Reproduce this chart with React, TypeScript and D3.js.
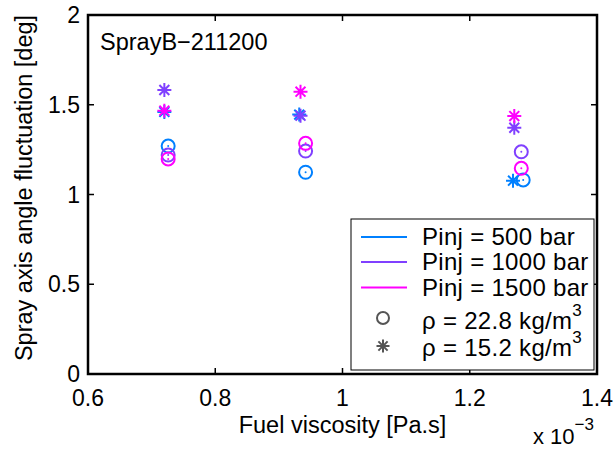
import React from "react";
import * as d3 from "d3";

const seriesLabels = ["Pinj = 500 bar", "Pinj = 1000 bar", "Pinj = 1500 bar"];
const seriesColors = ["#0080ff", "#8040ff", "#ff00ff"];
// rho = 22.8 kg/m3 (circles)
const circleX = [
  [0.726, 0.942, 1.284],
  [0.726, 0.942, 1.281],
  [0.726, 0.942, 1.281],
];
const circleY = [
  [1.27, 1.124, 1.081],
  [1.22, 1.242, 1.238],
  [1.198, 1.285, 1.146],
];
// rho = 15.2 kg/m3 (stars)
const starX = [
  [0.72, 0.932, 1.268],
  [0.72, 0.934, 1.27],
  [0.72, 0.934, 1.27],
];
const starY = [
  [1.46, 1.445, 1.077],
  [1.582, 1.439, 1.372],
  [1.467, 1.573, 1.437],
];
const xTicks = [0.6, 0.8, 1, 1.2, 1.4];
const yTicks = [0, 0.5, 1, 1.5, 2];

const W = 614;
const H = 449;
const L = 88, R = 597, T = 15, B = 374;
const FONT = "'Liberation Sans', Arial, Helvetica, sans-serif";

function starPath(cx: number, cy: number, r: number) {
  const d = r * Math.SQRT1_2;
  return `M${cx - r},${cy}L${cx + r},${cy}M${cx},${cy - r}L${cx},${cy + r}` +
    `M${cx - d},${cy - d}L${cx + d},${cy + d}M${cx - d},${cy + d}L${cx + d},${cy - d}`;
}

export default function App() {
  const x = d3.scaleLinear().domain([0.6, 1.4]).range([L, R]);
  const y = d3.scaleLinear().domain([0, 2]).range([B, T]);
  const tickLen = 6;
  const fmt = (v: number) => String(v);

  const legX = 351, legY = 219, legW = 243, legH = 151;
  const rowY = [237, 262, 287.5, 320, 347];

  return (
    <svg width={W} height={H} style={{ position: "absolute", left: 0, top: 0, background: "#fff" }}
      fontFamily={FONT}>
      <rect x={0} y={0} width={W} height={H} fill="#fff" />
      {/* ticks */}
      {xTicks.map((t, i) => (
        <g key={"xt" + i}>
          <line x1={x(t)} x2={x(t)} y1={B} y2={B - tickLen} stroke="#000" strokeWidth={1.5} />
          <line x1={x(t)} x2={x(t)} y1={T} y2={T + tickLen} stroke="#000" strokeWidth={1.5} />
          <text x={x(t)} y={406} fontSize={23} textAnchor="middle" fill="#000">{fmt(t)}</text>
        </g>
      ))}
      {yTicks.map((t, i) => (
        <g key={"yt" + i}>
          <line x1={L} x2={L + tickLen} y1={y(t)} y2={y(t)} stroke="#000" strokeWidth={1.5} />
          <line x1={R} x2={R - tickLen} y1={y(t)} y2={y(t)} stroke="#000" strokeWidth={1.5} />
          <text x={80} y={y(t) + 8} fontSize={23} textAnchor="end" fill="#000">{fmt(t)}</text>
        </g>
      ))}
      {/* data */}
      {seriesColors.map((c, s) => (
        <g key={"s" + s}>
          {circleX[s].map((v, i) => (
            <g key={"c" + i}>
              <circle cx={x(v)} cy={y(circleY[s][i])} r={6.5} fill="none" stroke={c} strokeWidth={2} />
              <circle cx={x(v)} cy={y(circleY[s][i])} r={1} fill={c} />
            </g>
          ))}
          {starX[s].map((v, i) => (
            <path key={"st" + i} d={starPath(x(v), y(starY[s][i]), 7)} stroke={c} strokeWidth={2} fill="none" />
          ))}
        </g>
      ))}
      {/* title */}
      <text x={100} y={50} fontSize={23.5} fill="#000">SprayB−211200</text>
      {/* legend */}
      <rect x={legX} y={legY} width={legW} height={legH} fill="#fff" stroke="#000" strokeWidth={1} />
      {seriesLabels.map((lab, i) => (
        <g key={"lg" + i}>
          <line x1={361} x2={407} y1={rowY[i]} y2={rowY[i]} stroke={seriesColors[i]} strokeWidth={2} />
          <text x={422} y={rowY[i] + 8} fontSize={24} letterSpacing={0.3} fill="#000">{lab}</text>
        </g>
      ))}
      <circle cx={383} cy={rowY[3] - 2} r={6} fill="none" stroke="#555" strokeWidth={2} />
      <text x={422} y={rowY[3] + 9} fontSize={24} letterSpacing={0.3} fill="#000">
        ρ = 22.8 kg/m<tspan dy={-13} fontSize={17}>3</tspan>
      </text>
      <path d={starPath(383, rowY[4] - 1, 6.5)} stroke="#555" strokeWidth={2} fill="none" />
      <text x={422} y={rowY[4] + 9} fontSize={24} letterSpacing={0.3} fill="#000">
        ρ = 15.2 kg/m<tspan dy={-13} fontSize={17}>3</tspan>
      </text>
      {/* axes box */}
      <rect x={L} y={T} width={R - L} height={B - T} fill="none" stroke="#000" strokeWidth={2.5} />
      {/* axis labels */}
      <text x={(L + R) / 2} y={433} fontSize={23.5} textAnchor="middle" fill="#000">Fuel viscosity [Pa.s]</text>
      <text transform={`translate(32,188) rotate(-90)`} fontSize={23.5} textAnchor="middle" fill="#000">
        Spray axis angle fluctuation [deg]
      </text>
      <text x={533} y={444} fontSize={22} fill="#000">
        x 10<tspan dy={-14} fontSize={17}>−3</tspan>
      </text>
    </svg>
  );
}
